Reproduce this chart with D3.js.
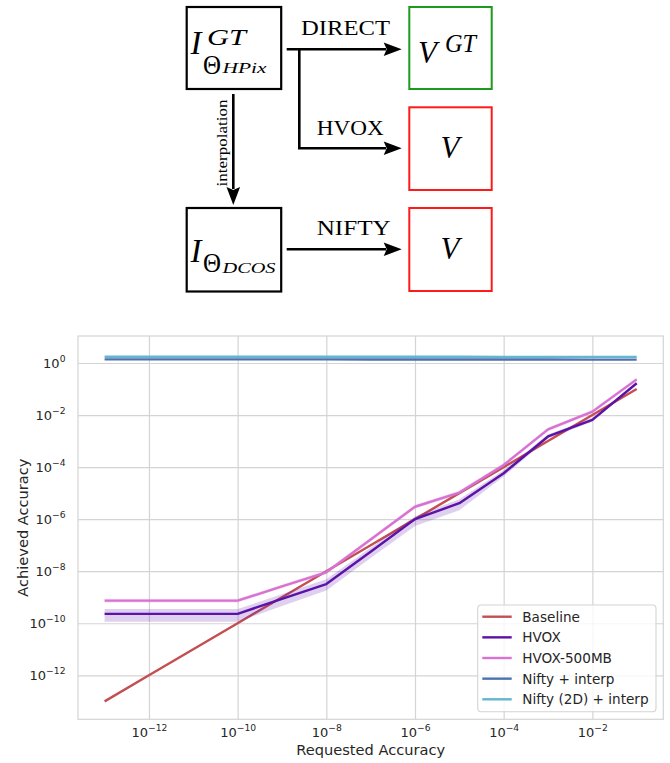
<!DOCTYPE html>
<html><head><meta charset="utf-8">
<script src="https://cdn.jsdelivr.net/npm/d3@7"></script>
<style>body{margin:0;background:#fff}svg{display:block}</style>
</head><body>
<script>
// ---------------- DATA ----------------
const requested = [1e-13, 1e-12, 1e-11, 1e-10, 1e-9, 1e-8, 1e-7, 1e-6, 1e-5, 1e-4, 1e-3, 1e-2, 1e-1];
const baseline  = [1e-13, 1e-12, 1e-11, 1e-10, 1e-9, 1e-8, 1e-7, 1e-6, 1e-5, 1e-4, 1e-3, 1e-2, 1e-1];
const hvox      = [2.3e-10, 2.3e-10, 2.3e-10, 2.3e-10, 8.7e-10, 3.2e-9, 5.6e-8, 1.0e-6, 4.1e-6, 5.8e-5, 1.5e-3, 6.5e-3, 1.66e-1];
const hvoxLo    = [1.15e-10, 1.15e-10, 1.15e-10, 1.15e-10, 4.6e-10, 1.8e-9, 3.2e-8, 5.5e-7, 2.2e-6, 4.4e-5, 1.25e-3, 5.5e-3, 1.5e-1];
const hvoxHi    = [3.5e-10, 3.5e-10, 3.5e-10, 3.5e-10, 1.3e-9, 4.9e-9, 8.0e-8, 1.3e-6, 5.8e-6, 7.5e-5, 1.8e-3, 7.8e-3, 1.8e-1];
const hvox500   = [7.4e-10, 7.4e-10, 7.4e-10, 7.4e-10, 2.6e-9, 9.1e-9, 1.66e-7, 3.0e-6, 1.05e-5, 1.2e-4, 2.8e-3, 1.35e-2, 2.35e-1];
const hvox500Lo = [6.2e-10, 6.2e-10, 6.2e-10, 6.2e-10, 2.2e-9, 7.6e-9, 1.40e-7, 2.5e-6, 8.8e-6, 1.0e-4, 2.35e-3, 1.13e-2, 2.0e-1];
const hvox500Hi = [8.8e-10, 8.8e-10, 8.8e-10, 8.8e-10, 3.1e-9, 1.09e-8, 1.98e-7, 3.6e-6, 1.26e-5, 1.43e-4, 3.35e-3, 1.6e-2, 2.8e-1];
const nifty     = [1.38, 1.38, 1.38, 1.38, 1.38, 1.38, 1.37, 1.37, 1.36, 1.36, 1.36, 1.35, 1.35];
const nifty2d   = [1.74, 1.74, 1.74, 1.74, 1.74, 1.74, 1.73, 1.73, 1.73, 1.72, 1.72, 1.72, 1.72];
const seriesNames = ["Baseline", "HVOX", "HVOX-500MB", "Nifty + interp", "Nifty (2D) + interp"];
const xTickExps = [-12, -10, -8, -6, -4, -2];
const yTickExps = [0, -2, -4, -6, -8, -10, -12];

// ---------------- STYLE ----------------
const colors = ["#c44e52", "#5c12a8", "#d872d4", "#4c72b0", "#64b5cd"];
const W = 670, H = 763;
const svg = d3.select("body").append("svg").attr("width", W).attr("height", H);

// ---------------- DIAGRAM ----------------
const dg = svg.append("g");
const serif = "'Liberation Serif', 'DejaVu Serif', serif";
function box(x0, y0, x1, y1, col, sw) {
  dg.append("rect").attr("x", x0).attr("y", y0).attr("width", x1 - x0).attr("height", y1 - y0)
    .attr("fill", "none").attr("stroke", col).attr("stroke-width", sw);
}
function head(tx, ty, dir) {
  const L = 18, hw = 6.8;
  let p;
  if (dir === "right") p = [[tx, ty], [tx - L, ty - hw], [tx - L + 3, ty], [tx - L, ty + hw]];
  else p = [[tx, ty], [tx - hw, ty - L], [tx, ty - L + 3], [tx + hw, ty - L]];
  dg.append("path").attr("d", "M" + p.map(q => q.join(",")).join("L") + "Z").attr("fill", "#000");
}
function seg(pts) {
  dg.append("path").attr("d", "M" + pts.map(q => q.join(",")).join("L"))
    .attr("fill", "none").attr("stroke", "#000").attr("stroke-width", 2.6);
}
function txt(x, y, s, size, italic, opts = {}) {
  const t = dg.append("text").attr("x", x).attr("y", y).text(s)
    .attr("font-family", serif).attr("font-size", size)
    .attr("font-style", italic ? "italic" : "normal").attr("fill", "#000");
  if (opts.anchor) t.attr("text-anchor", opts.anchor);
  if (opts.len) t.attr("textLength", opts.len).attr("lengthAdjust", "spacingAndGlyphs");
  return t;
}
box(186.7, 7, 281.2, 89, "#000", 2.2);
box(186.7, 208, 281.2, 291.5, "#000", 2.2);
box(409.3, 7, 491.7, 89, "#1b9a1b", 2);
box(409.3, 107.3, 491.7, 190, "#ff1a1a", 2);
box(409.3, 208, 491.7, 291, "#ff1a1a", 2);

seg([[286.7, 49.3], [386, 49.3]]); head(401.7, 49.3, "right");
seg([[299.3, 49.3], [299.3, 148.3], [386, 148.3]]); head(401.7, 148.3, "right");
seg([[286.7, 249.3], [386, 249.3]]); head(401.7, 249.3, "right");
seg([[233.3, 94], [233.3, 189]]); head(233.3, 205, "down");

txt(345.5, 35, "DIRECT", 22, false, {anchor: "middle", len: 89});
txt(350.3, 135, "HVOX", 22, false, {anchor: "middle", len: 67});
txt(353.7, 235, "NIFTY", 22, false, {anchor: "middle", len: 74});
dg.append("text").attr("transform", "translate(227,143) rotate(-90)")
  .attr("text-anchor", "middle").attr("font-family", serif).attr("font-size", 15)
  .attr("textLength", 87).attr("lengthAdjust", "spacingAndGlyphs").text("interpolation");

// I^GT_{Θ_HPix}
txt(190.5, 53.5, "I", 33, true);
txt(207, 44.5, "GT", 23, true, {len: 39});
txt(203, 73.5, "Θ", 27, false, {len: 18});
txt(222.5, 73.3, "HPix", 15, true, {len: 44});
// I_{Θ_DCOS}
txt(190.5, 261.5, "I", 33, true);
txt(203, 272, "Θ", 27, false, {len: 18});
txt(222.5, 273.3, "DCOS", 15, true, {len: 53});
// V^GT, V, V
txt(418, 63.3, "V", 31, true);
txt(445, 51.7, "GT", 26, true, {len: 31});
txt(450, 158.3, "V", 31, true, {anchor: "middle"});
txt(450, 259.3, "V", 31, true, {anchor: "middle"});

// ---------------- CHART ----------------
const pL = 78, pR = 663.3, pT = 336, pB = 719.3;
const x = d3.scaleLog().domain([Math.pow(10, -13.6), Math.pow(10, -0.4)]).range([pL, pR]);
const y = d3.scaleLog().domain([Math.pow(10, -13.69), Math.pow(10, 1.037)]).range([pB, pT]);
const sans = "'DejaVu Sans', sans-serif";
const grid = "#d4d4d4", ink = "#262626";
const cg = svg.append("g");

const xAxis = cg.append("g").attr("transform", `translate(0,${pB})`)
  .call(d3.axisBottom(x).tickValues(xTickExps.map(e => Math.pow(10, e)))
    .tickSize(-(pB - pT)).tickPadding(8.3).tickFormat(() => ""));
const yAxis = cg.append("g").attr("transform", `translate(${pL},0)`)
  .call(d3.axisLeft(y).tickValues(yTickExps.map(e => Math.pow(10, e)))
    .tickSize(-(pR - pL)).tickPadding(12.5).tickFormat(() => ""));
[xAxis, yAxis].forEach(a => {
  a.select(".domain").remove();
  a.selectAll(".tick line").attr("stroke", grid).attr("stroke-width", 1.2);
  a.selectAll(".tick text").attr("font-family", sans).attr("font-size", 13).attr("fill", ink)
    .each(function(d) {
      const t = d3.select(this);
      const e = Math.round(Math.log10(d));
      t.text(null);
      t.append("tspan").text("10");
      t.append("tspan").attr("dy", -6).attr("font-size", 9.2).text(e === 0 ? "0" : "\u2212" + Math.abs(e));
    });
});
cg.append("rect").attr("x", pL).attr("y", pT).attr("width", pR - pL).attr("height", pB - pT)
  .attr("fill", "none").attr("stroke", grid).attr("stroke-width", 1.2);

svg.append("clipPath").attr("id", "clip").append("rect")
  .attr("x", pL).attr("y", pT).attr("width", pR - pL).attr("height", pB - pT);
const plot = cg.append("g").attr("clip-path", "url(#clip)");

const series = [
  {vals: baseline},
  {vals: hvox, lo: hvoxLo, hi: hvoxHi},
  {vals: hvox500, lo: hvox500Lo, hi: hvox500Hi},
  {vals: nifty},
  {vals: nifty2d}
];
const line = d3.line().x((d, i) => x(requested[i])).y(d => y(d));
series.forEach((s, k) => {
  plot.append("path").attr("d", line(s.vals)).attr("fill", "none")
    .attr("stroke", colors[k]).attr("stroke-width", 2.4).attr("stroke-linejoin", "round");
  if (s.lo) {
    const area = d3.area().x((d, i) => x(requested[i])).y0((d, i) => y(s.lo[i])).y1((d, i) => y(s.hi[i]));
    plot.append("path").attr("d", area(s.vals)).attr("fill", colors[k]).attr("fill-opacity", 0.2);
  }
});

// axis labels
cg.append("text").attr("x", (pL + pR) / 2).attr("y", 754.5).attr("text-anchor", "middle")
  .attr("font-family", sans).attr("font-size", 14.6).attr("fill", ink).text("Requested Accuracy");
cg.append("text").attr("transform", `translate(27.5,${(pT + pB) / 2}) rotate(-90)`).attr("text-anchor", "middle")
  .attr("font-family", sans).attr("font-size", 14.6).attr("fill", ink).text("Achieved Accuracy");

// legend
const lg = cg.append("g");
lg.append("rect").attr("x", 477.7).attr("y", 605).attr("width", 178.3).attr("height", 106.7).attr("rx", 3.5)
  .attr("fill", "#fff").attr("fill-opacity", 0.8).attr("stroke", grid).attr("stroke-width", 1.1);
seriesNames.forEach((n, k) => {
  const cy = 616.7 + k * 20.65;
  lg.append("line").attr("x1", 482.3).attr("x2", 511.7).attr("y1", cy).attr("y2", cy)
    .attr("stroke", colors[k]).attr("stroke-width", 2.4);
  lg.append("text").attr("x", 522.3).attr("y", cy + 4.9).attr("font-family", sans).attr("font-size", 13.6)
    .attr("fill", ink).text(n);
});
</script>
</body></html>
